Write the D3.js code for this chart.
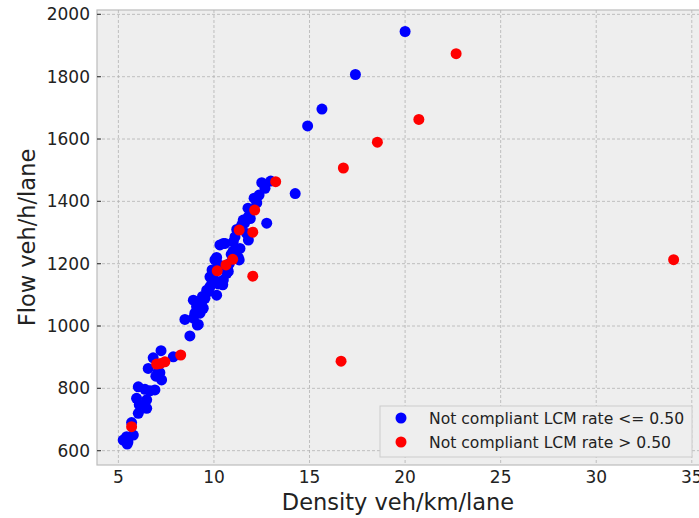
<!DOCTYPE html>
<html>
<head>
<meta charset="utf-8">
<script src="https://cdn.jsdelivr.net/npm/d3@7"></script>
<style>
  body { margin: 0; background: #ffffff; }
  text { font-family: "DejaVu Sans", sans-serif; fill: #222222; }
</style>
</head>
<body>
<svg id="chart" width="699" height="518"></svg>
<script>
// density (veh/km/lane), flow (veh/h/lane)
var blueDensity = [20.0, 17.4, 15.65, 14.9, 14.25, 12.76,
  12.97, 12.5, 12.67, 12.36, 12.24, 11.97, 11.78, 11.8, 11.53, 11.45, 11.19, 11.71, 11.1, 11.8,
  11.01, 10.58, 10.31, 10.49, 11.36, 10.14, 11.27, 11.32, 10.05, 10.67, 10.75, 10.49, 9.79, 10.46,
  10.22, 9.79, 9.62, 10.14, 9.53, 9.36, 8.92, 9.09, 9.44, 9.27, 9.0, 8.48, 8.92, 9.13, 9.18, 8.74,
  10.8, 10.7, 10.0, 9.9, 10.3, 11.0, 11.6, 11.9, 12.1, 10.9, 9.7, 9.4, 9.9,
  7.23, 6.82, 7.87, 6.56, 7.08, 7.17, 6.96, 7.26, 6.04, 6.39, 6.91, 6.65, 5.95, 6.48, 6.09, 6.48,
  6.04, 5.69, 5.78, 5.43, 5.25, 5.46, 5.5];
var blueFlow = [1945, 1807, 1696, 1642, 1425, 1330,
  1465, 1460, 1442, 1420, 1395, 1372, 1378, 1351, 1340, 1324, 1310, 1297, 1286, 1276,
  1270, 1265, 1260, 1265, 1249, 1220, 1220, 1212, 1212, 1169, 1175, 1148, 1158, 1132,
  1135, 1126, 1115, 1099, 1089, 1078, 1083, 1062, 1057, 1041, 1041, 1021, 1025, 1003, 1005, 968,
  1200, 1185, 1150, 1180, 1195, 1240, 1330, 1345, 1410, 1230, 1110, 1095, 1140,
  921, 898, 901, 864, 853, 850, 839, 827, 805, 797, 795, 792, 768, 763, 747, 736,
  720, 690, 650, 645, 634, 621, 628];

var redDensity = [22.67, 20.72, 18.55, 16.77, 13.23, 34.05, 16.65, 12.03, 12.13, 12.03, 11.32,
  10.98, 10.63, 10.17, 8.26, 7.43, 7.0, 7.2, 5.69];
var redFlow = [1874, 1663, 1590, 1507, 1463, 1213, 887, 1160, 1372, 1301, 1308,
  1214, 1196, 1177, 907, 885, 878, 880, 677];

var xTicks = [5, 10, 15, 20, 25, 30, 35];
var yTicks = [600, 800, 1000, 1200, 1400, 1600, 1800, 2000];
var seriesNames = ["Not compliant LCM rate <= 0.50", "Not compliant LCM rate > 0.50"];
var seriesColors = ["#0000ff", "#ff0000"];

var margin = { left: 97, top: 10 };
var plotW = 603, plotH = 455;

var svg = d3.select("#chart");
var g = svg.append("g").attr("transform", "translate(" + margin.left + "," + margin.top + ")");

var x = d3.scaleLinear().domain([3.88, 35.43]).range([0, plotW]);
var y = d3.scaleLinear().domain([554, 2014]).range([plotH, 0]);

g.append("rect")
  .attr("width", plotW).attr("height", plotH)
  .attr("fill", "#eeeeee").attr("stroke", "#bcbcbc").attr("stroke-width", 1.2);

// grid
g.selectAll(".vgrid").data(xTicks).enter().append("line")
  .attr("x1", d => x(d)).attr("x2", d => x(d))
  .attr("y1", 0).attr("y2", plotH)
  .attr("stroke", "#b2b2b2").attr("stroke-width", 0.8).attr("stroke-dasharray", "3,2");
g.selectAll(".hgrid").data(yTicks).enter().append("line")
  .attr("x1", 0).attr("x2", plotW)
  .attr("y1", d => y(d)).attr("y2", d => y(d))
  .attr("stroke", "#b2b2b2").attr("stroke-width", 0.8).attr("stroke-dasharray", "3,2");

// y tick marks (inside) and labels
g.selectAll(".ytick").data(yTicks).enter().append("line")
  .attr("x1", 0).attr("x2", 4)
  .attr("y1", d => y(d)).attr("y2", d => y(d))
  .attr("stroke", "#444").attr("stroke-width", 1.2);
g.selectAll(".ylab").data(yTicks).enter().append("text")
  .attr("x", -7).attr("y", d => y(d) + 6)
  .attr("text-anchor", "end").attr("font-size", "17px")
  .text(d => d);

g.selectAll(".xlab").data(xTicks).enter().append("text")
  .attr("x", d => x(d)).attr("y", plotH + 18)
  .attr("text-anchor", "middle").attr("font-size", "17px")
  .text(d => d);

// points: blue first, red on top
var blue = blueDensity.map((d, i) => ({ x: d, y: blueFlow[i] }));
var red = redDensity.map((d, i) => ({ x: d, y: redFlow[i] }));

g.selectAll(".blue").data(blue).enter().append("circle")
  .attr("cx", d => x(d.x)).attr("cy", d => y(d.y)).attr("r", 5.5)
  .attr("fill", seriesColors[0]);
g.selectAll(".red").data(red).enter().append("circle")
  .attr("cx", d => x(d.x)).attr("cy", d => y(d.y)).attr("r", 5.5)
  .attr("fill", seriesColors[1]);

// axis labels
svg.append("text")
  .attr("x", margin.left + 301).attr("y", 510)
  .attr("text-anchor", "middle").attr("font-size", "22.5px")
  .text("Density veh/km/lane");
svg.append("text")
  .attr("transform", "translate(35," + (margin.top + plotH / 2) + ") rotate(-90)")
  .attr("text-anchor", "middle").attr("font-size", "22.5px")
  .text("Flow veh/h/lane");

// legend
var legend = svg.append("g").attr("transform", "translate(380,406)");
legend.append("rect")
  .attr("width", 312).attr("height", 51)
  .attr("fill", "#eeeeee").attr("stroke", "#cccccc").attr("stroke-width", 1);
legend.selectAll("circle").data(seriesNames).enter().append("circle")
  .attr("cx", 21).attr("cy", (d, i) => 12 + i * 24).attr("r", 5.5)
  .attr("fill", (d, i) => seriesColors[i]);
legend.selectAll("text").data(seriesNames).enter().append("text")
  .attr("x", 49).attr("y", (d, i) => 12 + i * 24 + 5.5)
  .attr("font-size", "15.6px")
  .text(d => d);
</script>
</body>
</html>
